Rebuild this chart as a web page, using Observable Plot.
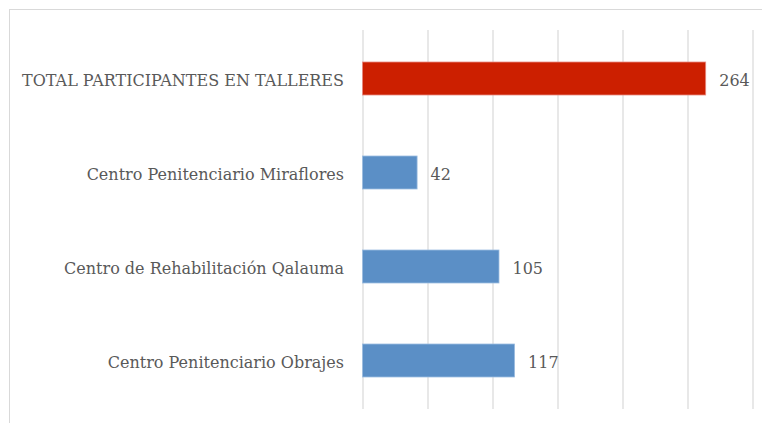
<!DOCTYPE html>
<html>
<head>
<meta charset="utf-8">
<script src="https://cdn.jsdelivr.net/npm/d3@7"></script>
<script src="https://cdn.jsdelivr.net/npm/@observablehq/plot@0.6"></script>
<style>
  html, body { margin: 0; padding: 0; background: #fff; }
  #wrap { position: relative; width: 762px; height: 423px; overflow: hidden; }
  #frame { position: absolute; left: 9px; top: 9px; width: 800px; height: 500px; border: 1px solid #d9d9d9; box-sizing: border-box; pointer-events: none; }
  #chart { position: absolute; left: 0; top: 0; }
</style>
</head>
<body>
<div id="wrap"><div id="frame"></div><div id="chart"></div></div>
<script>
const categories = [
  "TOTAL PARTICIPANTES EN TALLERES",
  "Centro Penitenciario Miraflores",
  "Centro de Rehabilitación Qalauma",
  "Centro Penitenciario Obrajes"
];
const values = [264, 42, 105, 117];
const isTotal = [true, false, false, false];
const xTicks = [0, 50, 100, 150, 200, 250, 300];

const data = categories.map((c, i) => ({ category: c, value: values[i], total: isTotal[i] }));

const font = "'DejaVu Serif', serif";

const chart = Plot.plot({
  width: 762,
  height: 423,
  marginLeft: 362.5,
  marginRight: 9.5,
  marginTop: 30,
  marginBottom: 14,
  style: { fontFamily: font, fontSize: "16px", color: "#595959", background: "transparent" },
  x: { domain: [0, 300], axis: null },
  y: { domain: categories, paddingInner: 0.646, paddingOuter: 0.323, label: null },
  marks: [
    Plot.ruleX(xTicks, { stroke: "#d9d9d9", strokeWidth: 1.2, strokeOpacity: 1 }),
    Plot.axisY({ tickSize: 0, tickPadding: 19, dy: 2, label: null, fontSize: 16, fill: "#595959",
      letterSpacing: 0, textStretch: null }),
    Plot.barX(data, {
      x: "value", y: "category",
      fill: d => d.total ? "#cc1f00" : "#5b8fc6",
      stroke: d => d.total ? "#e88a80" : "#9dbde0",
      strokeWidth: 0.8
    }),
    Plot.text(data, {
      x: "value", y: "category", text: d => String(d.value),
      textAnchor: "start", dx: 13, dy: 2, fill: "#595959", fontSize: 16, fontFamily: font
    })
  ]
});
document.getElementById("chart").appendChild(chart);
</script>
</body>
</html>
